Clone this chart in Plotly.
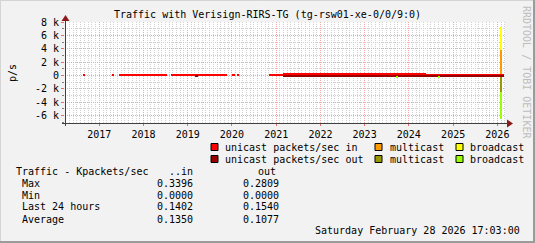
import pandas as pd
import plotly.graph_objects as go

FONT = "DejaVu Sans Mono"

# ---------------- data (packets/sec) ----------------
seg_start = ["2016-08-17", "2017-04-13", "2017-06-15", "2018-08-16", "2019-02-27",
             "2019-03-29", "2019-12-30", "2020-02-14", "2020-11-03", "2021-03-01",
             "2023-09-22", "2023-09-30", "2024-04-10", "2024-05-20", "2024-09-01",
             "2024-09-09", "2025-05-20", "2025-07-27", "2025-11-17", "2026-01-11",
             "2026-01-30", "2026-02-09"]
seg_end = ["2016-09-05", "2017-05-02", "2018-07-17", "2019-02-27", "2019-03-29",
           "2019-11-19", "2020-01-24", "2020-02-22", "2021-03-01", "2023-09-22",
           "2023-09-30", "2024-04-10", "2024-05-20", "2024-09-01", "2024-09-09",
           "2025-05-20", "2025-07-27", "2025-11-17", "2026-01-11", "2026-01-30",
           "2026-02-09", "2026-02-28"]
uni_in = [150, 150, 150, 150, 150, 150, 150, 150, 150, 310,
          310, 310, 340, 140, 140, 140, 280, 140, 300, 140, 150, 140]
mc_in = [0, 0, 0, 0, 0, 0, 0, 0, 0, 0,
         0, 0, 0, 0, 0, 0, 0, 0, 0, 0, 3700, 0]
bc_in = [0, 0, 0, 0, 0, 0, 0, 0, 0, 0,
         0, 0, 0, 0, 0, 0, 0, 0, 0, 0, 3450, 0]
uni_out = [0, 0, 0, 0, 280, 0, 0, 0, 0, 190,
           190, 190, 190, 200, 200, 200, 250, 200, 230, 200, 200, 200]
mc_out = [0, 0, 0, 0, 0, 0, 0, 0, 0, 0,
          0, 0, 0, 0, 0, 0, 0, 0, 0, 0, 2300, 0]
bc_out = [0, 0, 0, 0, 0, 0, 0, 0, 0, 0,
          150, 0, 0, 0, 150, 0, 0, 0, 0, 0, 4050, 0]

year_ticks = ["2017-01-01", "2018-01-01", "2019-01-01", "2020-01-01", "2021-01-01",
              "2022-01-01", "2023-01-01", "2024-01-01", "2025-01-01", "2026-01-01"]
year_labels = ["2017", "2018", "2019", "2020", "2021", "2022", "2023", "2024", "2025", "2026"]
y_tickvals = [-6000, -4000, -2000, 0, 2000, 4000, 6000, 8000]
y_ticktext = ["-6 k", "-4 k", "-2 k", "0", "2 k", "4 k", "6 k", "8 k"]

series_names = ["unicast packets/sec in", "multicast", "broadcast",
                "unicast packets/sec out", "multicast", "broadcast"]
series_colors = ["#FF0000", "#FF9900", "#FFFF00", "#990000", "#999900", "#99FF00"]

stat_labels = ["Max", "Min", "Last 24 hours", "Average"]
stat_in = ["0.3396", "0.0000", "0.1402", "0.1350"]
stat_out = ["0.2809", "0.0000", "0.1540", "0.1077"]

title_text = "Traffic with Verisign-RIRS-TG (tg-rsw01-xe-0/0/9:0)"
date_text = "Saturday February 28 2026 17:03:00"

# ---------------- geometry helpers (pixel -> paper) ----------------
W, H = 535, 243
PL, PR, PT, PB = 65, 505, 22, 123
X_RANGE = ["2016-03-24", "2026-03-05"]


def px(x):
    return (x - PL) / (PR - PL)


def py(y):
    return (PB - y) / (PB - PT)


starts = pd.to_datetime(seg_start)
ends = pd.to_datetime(seg_end)
mids = starts + (ends - starts) / 2
widths = [(e - s).total_seconds() * 1000 for s, e in zip(starts, ends)]

fig = go.Figure()
series_vals = [uni_in, mc_in, bc_in,
               [-v for v in uni_out], [-v for v in mc_out], [-v for v in bc_out]]
for name, col, vals in zip(series_names, series_colors, series_vals):
    fig.add_trace(go.Bar(x=mids, y=vals, width=widths, name=name,
                         marker=dict(color=col, line=dict(width=0)),
                         showlegend=False, hoverinfo="skip"))

# monthly minor grid (skip January where the yearly major grid sits)
minor_months = [d.strftime("%Y-%m-%d")
                for d in pd.date_range("2016-04-01", "2026-03-01", freq="MS") if d.month != 1]

shapes = []
for mm in minor_months:
    shapes.append(dict(type="line", xref="x", yref="paper", x0=mm, x1=mm, y0=0, y1=1,
                       layer="below", line=dict(color="#D2D2D2", width=1, dash="1px,1px")))
# yearly major grid lines (dotted pink), below the data
for yt in year_ticks:
    shapes.append(dict(type="line", xref="x", yref="paper", x0=yt, x1=yt, y0=0, y1=1,
                       layer="below", line=dict(color="#F2A6A6", width=1, dash="1px,1px")))
# frame
shapes.append(dict(type="line", xref="paper", yref="paper", x0=px(0), x1=px(W), y0=py(0.5), y1=py(0.5),
                   line=dict(color="#D4D4D4", width=1)))
shapes.append(dict(type="line", xref="paper", yref="paper", x0=px(0.5), x1=px(0.5), y0=py(0), y1=py(H),
                   line=dict(color="#D4D4D4", width=1)))
shapes.append(dict(type="line", xref="paper", yref="paper", x0=px(0), x1=px(W), y0=py(H - 1), y1=py(H - 1),
                   line=dict(color="#9B9B9B", width=2)))
shapes.append(dict(type="line", xref="paper", yref="paper", x0=px(W - 1), x1=px(W - 1), y0=py(0), y1=py(H),
                   line=dict(color="#9B9B9B", width=2)))
# axes
shapes.append(dict(type="line", xref="paper", yref="paper", x0=px(62), x1=px(509), y0=py(123.5), y1=py(123.5),
                   line=dict(color="#404040", width=1)))
shapes.append(dict(type="line", xref="paper", yref="paper", x0=px(65.5), x1=px(65.5), y0=py(126), y1=py(19),
                   line=dict(color="#404040", width=1)))
# arrows
shapes.append(dict(type="path", xref="paper", yref="paper",
                   path="M %f %f L %f %f L %f %f Z" % (px(507), py(119.5), px(513), py(123.5), px(507), py(127.5)),
                   fillcolor="#8B1A1A", line=dict(width=0)))
shapes.append(dict(type="path", xref="paper", yref="paper",
                   path="M %f %f L %f %f L %f %f Z" % (px(61.5), py(21), px(65.5), py(15), px(69.5), py(21)),
                   fillcolor="#8B1A1A", line=dict(width=0)))

annotations = []
# legend
leg_boxes_x = [211, 375, 456]
leg_text_x = [223, 387.5, 467.5]
leg_rows_y = [147, 159]
for i, (name, col) in enumerate(zip(series_names, series_colors)):
    r, c = divmod(i, 3)
    bx, yc = leg_boxes_x[c], leg_rows_y[r]
    shapes.append(dict(type="rect", xref="paper", yref="paper",
                       x0=px(bx), x1=px(bx + 7), y0=py(yc - 3.5), y1=py(yc + 3.5),
                       fillcolor=col, line=dict(color="#000000", width=1)))
    annotations.append(dict(text=name, xref="paper", yref="paper", x=px(leg_text_x[c]), y=py(yc),
                            xanchor="left", yanchor="middle", showarrow=False,
                            font=dict(family=FONT, size=10, color="#000000")))

# stats table
annotations.append(dict(text="Traffic - Kpackets/sec", xref="paper", yref="paper", x=px(14), y=py(171),
                        xanchor="left", yanchor="middle", showarrow=False,
                        font=dict(family=FONT, size=10, color="#000000")))
annotations.append(dict(text="..in", xref="paper", yref="paper", x=px(195), y=py(171),
                        xanchor="right", yanchor="middle", showarrow=False,
                        font=dict(family=FONT, size=10, color="#000000")))
annotations.append(dict(text="out", xref="paper", yref="paper", x=px(278), y=py(171),
                        xanchor="right", yanchor="middle", showarrow=False,
                        font=dict(family=FONT, size=10, color="#000000")))
for i, (lab, vin, vout) in enumerate(zip(stat_labels, stat_in, stat_out)):
    yy = 183 + 12 * i
    annotations.append(dict(text=lab, xref="paper", yref="paper", x=px(20), y=py(yy),
                            xanchor="left", yanchor="middle", showarrow=False,
                            font=dict(family=FONT, size=10, color="#000000")))
    annotations.append(dict(text=vin, xref="paper", yref="paper", x=px(195), y=py(yy),
                            xanchor="right", yanchor="middle", showarrow=False,
                            font=dict(family=FONT, size=10, color="#000000")))
    annotations.append(dict(text=vout, xref="paper", yref="paper", x=px(281), y=py(yy),
                            xanchor="right", yanchor="middle", showarrow=False,
                            font=dict(family=FONT, size=10, color="#000000")))

annotations.append(dict(text=date_text, xref="paper", yref="paper", x=px(522), y=py(230),
                        xanchor="right", yanchor="middle", showarrow=False,
                        font=dict(family=FONT, size=10, color="#000000")))
annotations.append(dict(text="p/s", xref="paper", yref="paper", x=px(12), y=py(73),
                        xanchor="center", yanchor="middle", showarrow=False, textangle=-90,
                        font=dict(family=FONT, size=10, color="#000000")))
annotations.append(dict(text="RRDTOOL / TOBI OETIKER", xref="paper", yref="paper", x=px(527), y=py(72),
                        xanchor="center", yanchor="middle", showarrow=False, textangle=90,
                        font=dict(family=FONT, size=10, color="#BDBDBD")))
annotations.append(dict(text=title_text, xref="paper", yref="paper", x=px(267), y=py(15),
                        xanchor="center", yanchor="middle", showarrow=False,
                        font=dict(family=FONT, size=10, color="#000000")))

fig.update_layout(
    width=W, height=H,
    margin=dict(l=PL, r=W - PR, t=PT, b=H - PB, pad=0),
    paper_bgcolor="#F2F2F2", plot_bgcolor="#FFFFFF",
    barmode="relative", bargap=0,
    shapes=shapes, annotations=annotations,
    font=dict(family=FONT, size=10, color="#000000"),
    xaxis=dict(type="date", range=X_RANGE,
               tickmode="array", tickvals=year_ticks, ticktext=year_labels,
               showgrid=False,
               ticks="outside", ticklen=2, tickcolor="#E07070",
               showline=False, zeroline=False, fixedrange=True,
               tickfont=dict(family=FONT, size=10, color="#000000")),
    yaxis=dict(range=[-7150, 8050], tickvals=y_tickvals, ticktext=y_ticktext,
               showgrid=True, gridcolor="#F2A6A6", griddash="1px,1px", gridwidth=1,
               ticks="outside", ticklen=3, tickcolor="#E07070",
               minor=dict(dtick=1000, showgrid=True, gridcolor="#CFCFCF", griddash="1px,1px",
                          ticks="outside", ticklen=2, tickcolor="#808080"),
               showline=False, zeroline=False, fixedrange=True,
               tickfont=dict(family=FONT, size=10, color="#000000")),
)

# snap grid lines, ticks and vertical dotted shape lines to pixel centres
snap_js = """
var gd = document.getElementById('{plot_id}');
function snap(sel, axis){
  gd.querySelectorAll(sel).forEach(function(p){
    var t = p.getAttribute('transform') || '';
    var m = /translate\\(\\s*([-\\d.e]+)[ ,]+([-\\d.e]+)\\s*\\)/.exec(t);
    if(!m) return;
    var x = parseFloat(m[1]), y = parseFloat(m[2]);
    if(axis === 'x') x = Math.floor(x) + 0.5; else y = Math.floor(y) + 0.5;
    p.setAttribute('transform', 'translate(' + x + ',' + y + ')');
  });
}
snap('path.xgrid, path.xtick', 'x');
snap('path.ygrid, path.ytick', 'y');
gd.querySelectorAll('.shapelayer path').forEach(function(p){
  var d = p.getAttribute('d') || '';
  var m = /^M([-\\d.e]+),([-\\d.e]+)L([-\\d.e]+),([-\\d.e]+)$/.exec(d);
  if(!m) return;
  var x0 = parseFloat(m[1]), x1 = parseFloat(m[3]);
  if(Math.abs(x0 - x1) < 1e-6 && p.style.strokeDasharray){
    var x = Math.floor(x0) + 0.5;
    p.setAttribute('d', 'M' + x + ',' + m[2] + 'L' + x + ',' + m[4]);
  }
});
"""

fig.write_html("out.html", post_script=snap_js)
